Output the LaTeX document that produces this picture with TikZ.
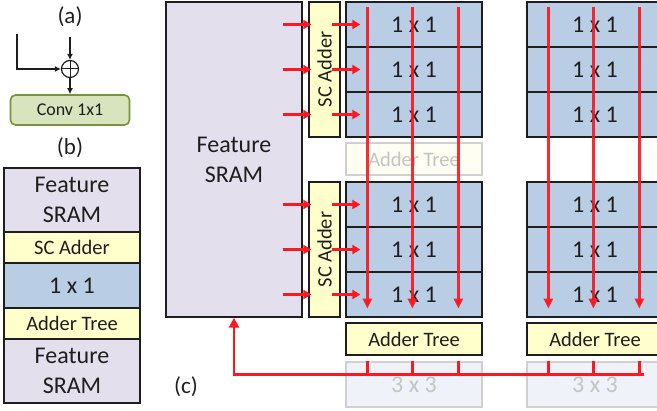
\documentclass[tikz,border=0pt]{standalone}
\usepackage{fontspec}
\setmainfont{Carlito}
\usetikzlibrary{arrows.meta,calc}
\definecolor{ink}{HTML}{1E1E1E}
\definecolor{sramc}{HTML}{E4DFEC}
\definecolor{scc}{HTML}{FFFFCC}
\definecolor{pec}{HTML}{B9CDE5}
\definecolor{convf}{HTML}{D7E4BD}
\definecolor{convd}{HTML}{77933C}
\definecolor{wire}{RGB}{250,24,34}
\definecolor{ghostd}{HTML}{D0D0D0}
\definecolor{ghostt}{HTML}{C4C4C4}
\definecolor{ghostpef}{HTML}{EFF2F8}
\definecolor{ghosttf}{HTML}{FEFEF2}
\begin{document}
\begin{tikzpicture}[x=1pt,y=-1pt,
  blk/.style={draw=ink, line width=1.3pt, inner sep=0pt, text=ink, align=center},
  bigtext/.style={font=\fontsize{24}{30}\selectfont},
  midtext/.style={font=\fontsize{20.5}{24}\selectfont},
  sramblk/.style={blk, fill=sramc, bigtext, minimum width=136pt},
  scblk/.style={blk, fill=scc, midtext},
  peblk/.style={blk, fill=pec, bigtext, minimum width=136pt, minimum height=45pt},
  treeblk/.style={blk, fill=scc, midtext, minimum width=136pt, minimum height=32pt},
  ghosttree/.style={draw=ghostd, line width=1.3pt, fill=ghosttf,
     text=ghostt, midtext, inner sep=0pt, minimum width=136pt, minimum height=32pt},
  ghostpe/.style={draw=ghostd, line width=1.3pt, fill=ghostpef,
     text=ghostt, bigtext, inner sep=0pt, minimum width=136pt, minimum height=45pt},
  lbl/.style={text=ink, font=\fontsize{23}{26}\selectfont},
  blackarr/.style={draw=ink, line width=1.2pt, -{Latex[length=6pt,width=6pt]}},
  feedarr/.style={draw=wire, line width=2.6pt, -{Triangle[length=8pt,width=9pt]}},
  colarr/.style={draw=wire, draw opacity=0.92, line width=2.6pt, -{Triangle[length=10pt,width=9pt]}},
  busline/.style={draw=wire, line width=2.6pt},
]
\clip (0,0) rectangle (657,411);

% ---------- (a) residual add before the 1x1 convolution ----------
\node[lbl] (lbla) at (70,17) {(a)};
\node[circle, draw=ink, line width=1.2pt, minimum size=17pt, inner sep=0pt] (sum) at (70,69) {};
\draw[ink, line width=1pt] (sum.north) -- (sum.south) (sum.west) -- (sum.east);
\node[draw=convd, fill=convf, line width=1.6pt, rounded corners=5pt, inner sep=0pt,
      minimum width=119pt, minimum height=30pt, text=ink,
      font=\fontsize{18}{20}\selectfont] (conv) at (70,110) {Conv 1x1};
\coordinate (ain) at (70,37);
\coordinate (askip) at (17,34);
\draw[blackarr] (ain) -- (sum.north);
\draw[blackarr] (askip) |- (sum.west);
\draw[blackarr] (sum.south) -- (conv.north);

% ---------- (b) layer stack ----------
\node[lbl] (lblb) at (70,148) {(b)};
\node[sramblk, minimum height=64pt] (b1) at (72,200) {Feature\\SRAM};
\node[scblk, minimum width=136pt, minimum height=31pt] (b2) at (72,247.5) {SC Adder};
\node[peblk] (b3) at (72,285.5) {1 x 1};
\node[scblk, minimum width=136pt, minimum height=31pt] (b4) at (72,323.5) {Adder Tree};
\node[sramblk, minimum height=64pt] (b5) at (72,371) {Feature\\SRAM};

% ---------- (c) array organisation ----------
\node[lbl] (lblc) at (186,387) {(c)};
\node[sramblk, minimum height=315pt] (sram) at (234,159.5) {Feature\\SRAM};
\node[scblk, minimum width=31pt, minimum height=135pt] (sca) at (324.5,69.5) {\rotatebox{90}{SC Adder}};
\node[scblk, minimum width=31pt, minimum height=135pt] (scb) at (324.5,249.5) {\rotatebox{90}{SC Adder}};

% processing-element columns: upper and lower groups of three rows
\foreach \c/\x in {1/414, 2/595} {
  \node[peblk] (u\c a) at (\x,24.5)  {1 x 1};
  \node[peblk] (u\c b) at (\x,69.5)  {1 x 1};
  \node[peblk] (u\c c) at (\x,114.5) {1 x 1};
  \node[peblk] (l\c a) at (\x,204.5) {1 x 1};
  \node[peblk] (l\c b) at (\x,249.5) {1 x 1};
  \node[peblk] (l\c c) at (\x,294.5) {1 x 1};
  \node[treeblk] (at\c) at (\x,339) {Adder Tree};
}

% idle blocks shown faded
\node[ghosttree] (gt) at (414,159) {Adder Tree};
\node[ghostpe, text depth=-6pt] (g1) at (414,384.5) {3 x 3};
\node[ghostpe, text depth=-6pt] (g2) at (595,384.5) {3 x 3};

% SRAM -> SC adder -> first column
\foreach \r in {a,b,c} {
  \draw[feedarr] ($(u1\r.west -| sram.east)+(-20,0)$) -- ($(u1\r.west -| sca.west)+(3,0)$);
  \draw[feedarr] ($(u1\r.west -| sca.east)+(-9,0)$) -- ($(u1\r.west)+(15,0)$);
  \draw[feedarr] ($(l1\r.west -| sram.east)+(-20,0)$) -- ($(l1\r.west -| scb.west)+(3,0)$);
  \draw[feedarr] ($(l1\r.west -| scb.east)+(-9,0)$) -- ($(l1\r.west)+(15,0)$);
}

% vertical partial-sum paths through each column
\foreach \c in {1,2} {
  \foreach \dx in {22,67,113} {
    \draw[colarr] ($(u\c a.north west)+(\dx,6)$) -- ($(l\c c.south west)+(\dx,-9)$);
    \draw[busline] ($(at\c.south west)+(\dx,5)$) -- ++(0,14);
  }
}

% collected outputs written back to the feature SRAM
\draw[draw=wire, line width=2.6pt, -{Triangle[length=10pt,width=10pt]}]
  ($(at2.south west)+(118,19)$) -| (sram.south);
\end{tikzpicture}
\end{document}
